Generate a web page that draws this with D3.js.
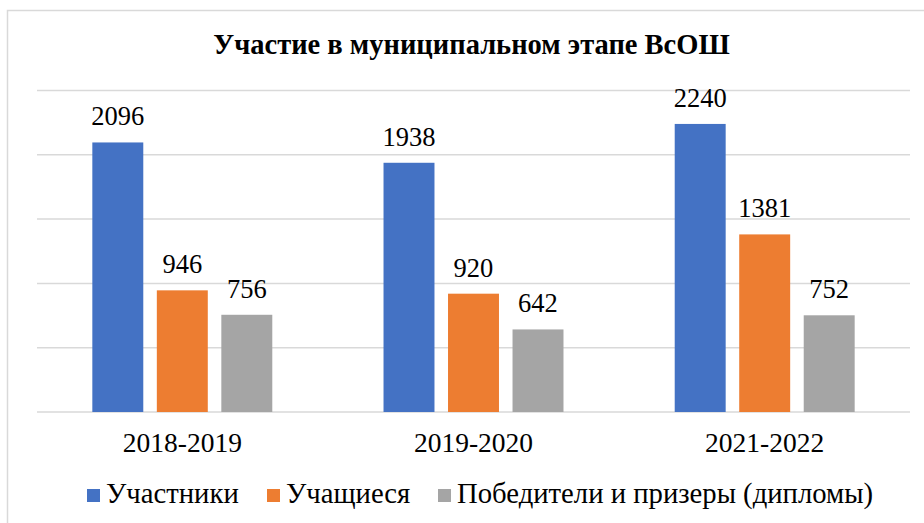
<!DOCTYPE html>
<html>
<head>
<meta charset="utf-8">
<script src="https://cdn.jsdelivr.net/npm/d3@7"></script>
<style>
  body { margin: 0; background: #fff; }
</style>
</head>
<body>
<script>
// data
var years = ["2018-2019", "2019-2020", "2021-2022"];
var seriesNames = ["Участники", "Учащиеся", "Победители и призеры (дипломы)"];
var participants = [2096, 1938, 2240];
var students = [946, 920, 1381];
var winners = [756, 642, 752];
var gridTicks = [0, 500, 1000, 1500, 2000, 2500];
var colors = ["#4472C4", "#ED7D31", "#A5A5A5"];

var W = 924, H = 523;
var margin = {top: 90, bottom: 111, left: 37, right: 14};

var svg = d3.select("body").append("svg")
    .attr("width", W)
    .attr("height", H);

// chart frame (only left and top visible in the picture)
svg.append("rect")
    .attr("x", 7.5).attr("y", 10.5)
    .attr("width", 940).attr("height", 540)
    .attr("fill", "none")
    .attr("stroke", "#D9D9D9")
    .attr("stroke-width", 1.5);

var x0 = d3.scaleBand()
    .domain(years)
    .range([margin.left, W - margin.right])
    .paddingInner(0.382)
    .paddingOuter(0.19);

var x1 = d3.scaleBand()
    .domain(seriesNames)
    .range([0, x0.bandwidth()])
    .paddingInner(0.21)
    .paddingOuter(0);

var y = d3.scaleLinear()
    .domain([0, 2500])
    .range([H - margin.bottom, margin.top + 0.5]);

// gridlines
svg.append("g").selectAll("line")
    .data(gridTicks)
    .join("line")
    .attr("x1", margin.left)
    .attr("x2", W - margin.right)
    .attr("y1", d => y(d))
    .attr("y2", d => y(d))
    .attr("stroke", "#D9D9D9")
    .attr("stroke-width", 1.5);

var table = years.map((yr, i) => ({
    year: yr,
    vals: [participants[i], students[i], winners[i]]
}));

var groups = svg.append("g").selectAll("g")
    .data(table)
    .join("g")
    .attr("transform", d => "translate(" + x0(d.year) + ",0)");

groups.selectAll("rect")
    .data(d => d.vals.map((v, k) => ({name: seriesNames[k], v: v, k: k})))
    .join("rect")
    .attr("x", d => x1(d.name))
    .attr("y", d => y(d.v))
    .attr("width", x1.bandwidth())
    .attr("height", d => y(0) - y(d.v))
    .attr("fill", d => colors[d.k]);

groups.selectAll("text")
    .data(d => d.vals.map((v, k) => ({name: seriesNames[k], v: v, k: k})))
    .join("text")
    .attr("x", d => x1(d.name) + x1.bandwidth() / 2)
    .attr("y", d => y(d.v) - 17)
    .attr("text-anchor", "middle")
    .style("font-family", "Liberation Serif")
    .style("font-size", "26.5px")
    .text(d => d.v);

// category axis labels
var xAxis = svg.append("g")
    .attr("transform", "translate(0," + y(0) + ")")
    .call(d3.axisBottom(x0).tickSize(0).tickPadding(0));
xAxis.select(".domain").remove();
xAxis.selectAll("text")
    .attr("dy", null)
    .attr("y", 40)
    .attr("fill", "#000")
    .style("font-family", "Liberation Serif")
    .style("font-size", "27.5px");

// title
svg.append("text")
    .attr("x", 471.5)
    .attr("y", 54)
    .attr("text-anchor", "middle")
    .style("font-family", "Liberation Serif")
    .style("font-size", "28.5px")
    .style("font-weight", "bold")
    .text("Участие в муниципальном этапе ВсОШ");

// legend
var legendX = [87, 267, 438];
var legend = svg.append("g").selectAll("g")
    .data(seriesNames)
    .join("g")
    .attr("transform", (d, i) => "translate(" + legendX[i] + ",489)");
legend.append("rect")
    .attr("width", 13).attr("height", 13)
    .attr("fill", (d, i) => colors[i]);
legend.append("text")
    .attr("x", 19)
    .attr("y", 14)
    .style("font-family", "Liberation Serif")
    .style("font-size", "28.7px")
    .text(d => d);
</script>
</body>
</html>
